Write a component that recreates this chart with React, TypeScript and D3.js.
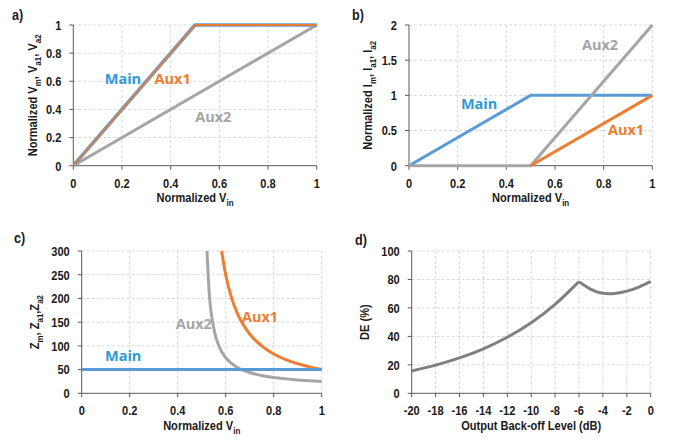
import React from "react";
import * as d3 from "d3";

// ---------- data ----------
const A_X_TICKS = [0, 0.2, 0.4, 0.6, 0.8, 1];
const A_Y_TICKS = [0, 0.2, 0.4, 0.6, 0.8, 1];
const A_MAIN_X = [0, 0.5, 1];
const A_MAIN_Y = [0, 1, 1];
const A_AUX1_X = [0, 0.5, 1];
const A_AUX1_Y = [0, 1, 1];
const A_AUX2_X = [0, 1];
const A_AUX2_Y = [0, 1];

const B_X_TICKS = [0, 0.2, 0.4, 0.6, 0.8, 1];
const B_Y_TICKS = [0, 0.5, 1, 1.5, 2];
const B_MAIN_X = [0, 0.5, 1];
const B_MAIN_Y = [0, 1, 1];
const B_AUX1_X = [0.5, 1];
const B_AUX1_Y = [0, 1];
const B_AUX2_X = [0, 0.5, 1];
const B_AUX2_Y = [0, 0, 2];

const C_X_TICKS = [0, 0.2, 0.4, 0.6, 0.8, 1];
const C_Y_TICKS = [0, 50, 100, 150, 200, 250, 300];
const C_MAIN_X = [0, 1];
const C_MAIN_Y = [50, 50];
const C_AUX1_X = [0.583, 0.6, 0.625, 0.65, 0.7, 0.75, 0.8, 0.85, 0.9, 0.95, 1];
const C_AUX1_Y = [300, 250, 200, 167, 125, 100, 83, 71, 62.5, 55.6, 50];
const C_AUX2_X = [0.522, 0.53, 0.55, 0.575, 0.6, 0.65, 0.7, 0.75, 0.8, 0.85, 0.9, 0.95, 1];
const C_AUX2_Y = [300, 221, 138, 96, 75, 54, 43.8, 37.5, 33.3, 30.4, 28.1, 26.4, 25];

const D_X_TICKS = [-20, -18, -16, -14, -12, -10, -8, -6, -4, -2, 0];
const D_Y_TICKS = [0, 20, 40, 60, 80, 100];
const D_SEG1_X = [-20, -18, -16, -14, -12, -10, -8, -6];
const D_SEG1_Y = [15.7, 19.8, 24.9, 31.3, 39.4, 49.6, 62.5, 78.5];
const D_SEG2_X = [-6, -5.5, -5, -4.5, -4, -3.5, -3, -2.5, -2, -1.5, -1, -0.5, 0];
const D_SEG2_Y = [78.5, 75.5, 73, 71.3, 70.3, 70, 70.2, 70.8, 71.8, 73, 74.6, 76.5, 78.5];

// ---------- styles ----------
const BLUE = "#5B9BD5";
const ORANGE = "#ED7D31";
const GRAY = "#A5A5A5";
const DARKGRAY = "#808080";
const BLUE_TXT = "#2E9AD7";
const AXIS = "#595959";
const TICK_FONT = "'Liberation Sans', Arial, sans-serif";
const LABEL_FONT = "'Open Sans', Calibri, sans-serif";
const TXT = "#1a1a1a";
const FS = 13.5;
const SX = 0.82; // narrow-font emulation

type Seg = { text: string; sub?: boolean };
type Series = { xs: number[]; ys: number[]; color: string; width: number; smooth?: boolean };
type Label = { x: number; y: number; text: string; color: string };

interface PanelProps {
  left: number; right: number; top: number; bottom: number;
  xDomain: [number, number]; yDomain: [number, number];
  xTicks: number[]; yTicks: number[];
  series: Series[]; labels: Label[];
  xTitle: Seg[]; yTitle: Seg[];
  xTitleY: number; yTitleX: number;
  tag: string; tagX: number; tagY: number;
  clipId: string;
}

function Rich({ segs, size }: { segs: Seg[]; size: number }) {
  const out: React.ReactNode[] = [];
  let prevSub = false;
  segs.forEach((s, i) => {
    let dy = 0;
    if (s.sub && !prevSub) dy = size * 0.3;
    else if (!s.sub && prevSub) dy = -size * 0.3;
    out.push(
      <tspan key={i} dy={dy} fontSize={s.sub ? size * 0.72 : size}>
        {s.text}
      </tspan>
    );
    prevSub = !!s.sub;
  });
  return <>{out}</>;
}

function Panel(p: PanelProps) {
  const x = d3.scaleLinear().domain(p.xDomain).range([p.left, p.right]);
  const y = d3.scaleLinear().domain(p.yDomain).range([p.bottom, p.top]);
  const makeLine = (smooth?: boolean) =>
    d3
      .line<[number, number]>()
      .x((d) => x(d[0]))
      .y((d) => y(d[1]))
      .curve(smooth ? d3.curveMonotoneX : d3.curveLinear);
  const txtProps = { fontFamily: TICK_FONT, fontWeight: "bold", fontSize: FS, fill: TXT } as const;
  return (
    <g>
      <defs>
        <clipPath id={p.clipId}>
          <rect x={p.left} y={p.top - 2} width={p.right - p.left + 2} height={p.bottom - p.top + 4} />
        </clipPath>
      </defs>
      {/* grid */}
      {p.xTicks.map((t, i) =>
        i === 0 ? null : (
          <line key={"gx" + i} x1={x(t)} x2={x(t)} y1={p.top} y2={p.bottom}
            stroke="#D9D9D9" strokeWidth={1} strokeDasharray="3,2" />
        )
      )}
      {p.yTicks.map((t, i) =>
        i === 0 ? null : (
          <line key={"gy" + i} x1={p.left} x2={p.right} y1={y(t)} y2={y(t)}
            stroke="#D9D9D9" strokeWidth={1} strokeDasharray="3,2" />
        )
      )}
      {/* axes */}
      <line x1={p.left} x2={p.left} y1={p.top} y2={p.bottom} stroke={AXIS} strokeWidth={1} />
      <line x1={p.left} x2={p.right} y1={p.bottom} y2={p.bottom} stroke={AXIS} strokeWidth={1} />
      {p.yTicks.map((t, i) => (
        <g key={"yt" + i}>
          <line x1={p.left - 4} x2={p.left} y1={y(t)} y2={y(t)} stroke={AXIS} strokeWidth={1} />
          <text transform={`translate(${p.left - 12},${y(t)}) scale(${SX},1)`} dy="0.36em"
            textAnchor="end" {...txtProps}>
            {String(t)}
          </text>
        </g>
      ))}
      {p.xTicks.map((t, i) => (
        <g key={"xt" + i}>
          <line x1={x(t)} x2={x(t)} y1={p.bottom} y2={p.bottom + 4} stroke={AXIS} strokeWidth={1} />
          <text transform={`translate(${x(t)},${p.bottom + 17}) scale(${SX},1)`} dy="0.36em"
            textAnchor="middle" {...txtProps}>
            {String(t)}
          </text>
        </g>
      ))}
      {/* series */}
      <g clipPath={`url(#${p.clipId})`}>
        {p.series.map((s, i) => (
          <path key={"s" + i}
            d={makeLine(s.smooth)(s.xs.map((v, k) => [v, s.ys[k]] as [number, number])) || ""}
            fill="none" stroke={s.color} strokeWidth={s.width} strokeLinejoin="round" />
        ))}
      </g>
      {/* labels */}
      {p.labels.map((l, i) => (
        <text key={"l" + i} x={x(l.x)} y={y(l.y)} dy="0.36em" textAnchor="middle"
          fontFamily={LABEL_FONT} fontWeight="bold" fontSize={14.5} fill={l.color}>
          {l.text}
        </text>
      ))}
      {/* titles */}
      <text transform={`translate(${(p.left + p.right) / 2},${p.xTitleY}) scale(${SX},1)`}
        dy="0.36em" textAnchor="middle" {...txtProps}>
        <Rich segs={p.xTitle} size={FS} />
      </text>
      <text transform={`translate(${p.yTitleX},${(p.top + p.bottom) / 2}) rotate(-90) scale(${SX},1)`}
        dy="0.36em" textAnchor="middle" {...txtProps}>
        <Rich segs={p.yTitle} size={FS} />
      </text>
      <text transform={`translate(${p.tagX},${p.tagY}) scale(0.9,1)`} dy="0.36em"
        fontFamily={TICK_FONT} fontWeight="bold" fontSize={14} fill={TXT}>
        {p.tag}
      </text>
    </g>
  );
}

const VIN_TITLE: Seg[] = [{ text: "Normalized V" }, { text: "in", sub: true }];

export default function App() {
  return (
    <svg width={674} height={440} style={{ position: "absolute", left: 0, top: 0, background: "#fff" }}>
      <rect x={0} y={0} width={674} height={440} fill="#fff" />
      <Panel
        left={73.3} right={316.7} top={25} bottom={165.7}
        xDomain={[0, 1]} yDomain={[0, 1]} xTicks={A_X_TICKS} yTicks={A_Y_TICKS}
        series={[
          { xs: A_AUX2_X, ys: A_AUX2_Y, color: GRAY, width: 3 },
          { xs: A_MAIN_X, ys: A_MAIN_Y, color: BLUE, width: 3.5 },
          { xs: A_AUX1_X, ys: A_AUX1_Y, color: ORANGE, width: 1.8 },
        ]}
        labels={[
          { x: 0.204, y: 0.616, text: "Main", color: BLUE_TXT },
          { x: 0.408, y: 0.616, text: "Aux1", color: ORANGE },
          { x: 0.575, y: 0.346, text: "Aux2", color: GRAY },
        ]}
        xTitle={VIN_TITLE}
        yTitle={[
          { text: "Normalized V" }, { text: "m", sub: true }, { text: ", V" },
          { text: "a1", sub: true }, { text: ", V" }, { text: "a2", sub: true },
        ]}
        xTitleY={202} yTitleX={37}
        tag="a)" tagX={12} tagY={15} clipId="ca"
      />
      <Panel
        left={409} right={652.3} top={25} bottom={165.7}
        xDomain={[0, 1]} yDomain={[0, 2]} xTicks={B_X_TICKS} yTicks={B_Y_TICKS}
        series={[
          { xs: B_MAIN_X, ys: B_MAIN_Y, color: BLUE, width: 3 },
          { xs: B_AUX2_X, ys: B_AUX2_Y, color: GRAY, width: 3 },
          { xs: B_AUX1_X, ys: B_AUX1_Y, color: ORANGE, width: 3 },
        ]}
        labels={[
          { x: 0.288, y: 0.877, text: "Main", color: BLUE_TXT },
          { x: 0.785, y: 1.715, text: "Aux2", color: GRAY },
          { x: 0.892, y: 0.507, text: "Aux1", color: ORANGE },
        ]}
        xTitle={VIN_TITLE}
        yTitle={[
          { text: "Normalized I" }, { text: "m", sub: true }, { text: ", I" },
          { text: "a1", sub: true }, { text: ", I" }, { text: "a2", sub: true },
        ]}
        xTitleY={202} yTitleX={372}
        tag="b)" tagX={352} tagY={15} clipId="cb"
      />
      <Panel
        left={81.7} right={321.7} top={251} bottom={393.3}
        xDomain={[0, 1]} yDomain={[0, 300]} xTicks={C_X_TICKS} yTicks={C_Y_TICKS}
        series={[
          { xs: C_AUX2_X, ys: C_AUX2_Y, color: GRAY, width: 3, smooth: true },
          { xs: C_AUX1_X, ys: C_AUX1_Y, color: ORANGE, width: 3, smooth: true },
          { xs: C_MAIN_X, ys: C_MAIN_Y, color: BLUE, width: 3 },
        ]}
        labels={[
          { x: 0.173, y: 79, text: "Main", color: BLUE_TXT },
          { x: 0.467, y: 147.5, text: "Aux2", color: GRAY },
          { x: 0.743, y: 161, text: "Aux1", color: ORANGE },
        ]}
        xTitle={VIN_TITLE}
        yTitle={[
          { text: "Z" }, { text: "m", sub: true }, { text: ", Z" },
          { text: "a1", sub: true }, { text: ",Z" }, { text: "a2", sub: true },
        ]}
        xTitleY={429.5} yTitleX={39}
        tag="c)" tagX={14} tagY={238} clipId="cc"
      />
      <Panel
        left={411.7} right={650.7} top={251} bottom={393.3}
        xDomain={[-20, 0]} yDomain={[0, 100]} xTicks={D_X_TICKS} yTicks={D_Y_TICKS}
        series={[
          { xs: D_SEG1_X, ys: D_SEG1_Y, color: DARKGRAY, width: 3, smooth: true },
          { xs: D_SEG2_X, ys: D_SEG2_Y, color: DARKGRAY, width: 3, smooth: true },
        ]}
        labels={[]}
        xTitle={[{ text: "Output Back-off Level (dB)" }]}
        yTitle={[{ text: "DE (%)" }]}
        xTitleY={430} yTitleX={369}
        tag="d)" tagX={355} tagY={240} clipId="cd"
      />
    </svg>
  );
}
